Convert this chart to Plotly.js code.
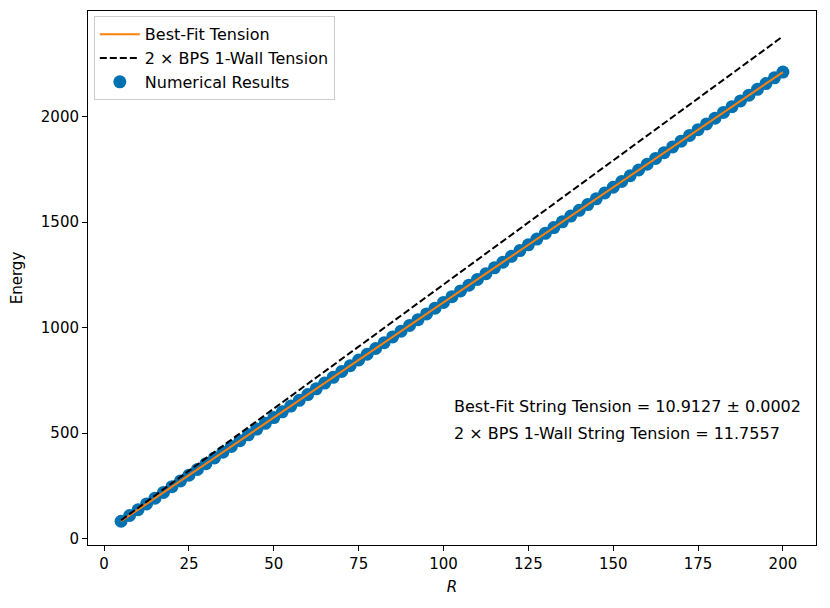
<!DOCTYPE html>
<html>
<head>
<meta charset="utf-8">
<script src="https://cdn.plot.ly/plotly-3.0.1.min.js"></script>
<style>html,body{margin:0;padding:0;background:#fff;}#chart{width:830px;height:608px;}</style>
</head>
<body>
<div id="chart"></div>
<script>
// Numerical results
const R_values = [5,7.5,10,12.5,15,17.5,20,22.5,25,27.5,30,32.5,35,37.5,40,42.5,45,47.5,50,52.5,
  55,57.5,60,62.5,65,67.5,70,72.5,75,77.5,80,82.5,85,87.5,90,92.5,95,97.5,100,102.5,
  105,107.5,110,112.5,115,117.5,120,122.5,125,127.5,130,132.5,135,137.5,140,142.5,145,147.5,150,152.5,
  155,157.5,160,162.5,165,167.5,170,172.5,175,177.5,180,182.5,185,187.5,190,192.5,195,197.5,200];
const energy_values = [82.6,109.8,137.1,164.4,191.7,219.0,246.3,273.5,300.8,328.1,355.4,382.7,409.9,437.2,464.5,491.8,519.1,546.4,573.6,600.9,
  628.2,655.5,682.8,710.0,737.3,764.6,791.9,819.2,846.5,873.7,901.0,928.3,955.6,982.9,1010.1,1037.4,1064.7,1092.0,1119.3,1146.6,
  1173.8,1201.1,1228.4,1255.7,1283.0,1310.2,1337.5,1364.8,1392.1,1419.4,1446.7,1473.9,1501.2,1528.5,1555.8,1583.1,1610.3,1637.6,1664.9,1692.2,
  1719.5,1746.8,1774.0,1801.3,1828.6,1855.9,1883.2,1910.4,1937.7,1965.0,1992.3,2019.6,2046.9,2074.1,2101.4,2128.7,2156.0,2183.3,2210.5];
// Line endpoints
const fit_R = [5, 200];
const fit_E = [82.6, 2210.5];
const bps_R = [5, 200];
const bps_E = [87, 2380];
const xTicks = [0,25,50,75,100,125,150,175,200];
const yTicks = [0,500,1000,1500,2000];
const notes = ["Best-Fit String Tension = 10.9127 ± 0.0002", "2 × BPS 1-Wall String Tension = 11.7557"];

const font = "DejaVu Sans, sans-serif";
const traces = [
  {x: R_values, y: energy_values, mode: 'markers', type: 'scatter', name: 'Numerical Results',
   marker: {color: '#0072b2', size: 13, line: {width: 0}}, legendrank: 3},
  {x: fit_R, y: fit_E, mode: 'lines', type: 'scatter', name: 'Best-Fit Tension',
   line: {color: '#ff7f0e', width: 2}, legendrank: 1},
  {x: bps_R, y: bps_E, mode: 'lines', type: 'scatter', name: '2 × BPS 1-Wall Tension',
   line: {color: '#000000', width: 2, dash: '7px,3px'}, legendrank: 2}
];
const layout = {
  width: 830, height: 608,
  margin: {l: 88, r: 14, t: 11, b: 63},
  paper_bgcolor: '#fff', plot_bgcolor: '#fff',
  font: {family: font, size: 15, color: '#000'},
  showlegend: true,
  legend: {x: 0.008, y: 0.99, xanchor: 'left', yanchor: 'top', bgcolor: 'rgba(255,255,255,0.8)',
    bordercolor: '#cccccc', borderwidth: 1, font: {family: font, size: 16}, tracegroupgap: 0,
    itemwidth: 40},
  xaxis: {range: [-4.75, 209.75], tickvals: xTicks, ticks: 'outside', ticklen: 5, tickcolor: '#000',
    showgrid: false, zeroline: false, showline: true, linecolor: '#000', linewidth: 1, mirror: true,
    tickfont: {size: 15}, title: {text: '<i>R</i>', font: {size: 15}, standoff: 9}},
  yaxis: {range: [-30, 2500], tickvals: yTicks, ticks: 'outside', ticklen: 5, tickcolor: '#000',
    showgrid: false, zeroline: false, showline: true, linecolor: '#000', linewidth: 1, mirror: true,
    tickfont: {size: 15}, title: {text: 'Energy', font: {size: 15}, standoff: 14}},
  annotations: [
    {x: 102.5, y: 625, xref: 'x', yref: 'y', xanchor: 'left', yanchor: 'middle', text: notes[0], showarrow: false, font: {size: 16}},
    {x: 102.5, y: 497, xref: 'x', yref: 'y', xanchor: 'left', yanchor: 'middle', text: notes[1], showarrow: false, font: {size: 16}}
  ]
};
Plotly.newPlot('chart', traces, layout, {displayModeBar: false, staticPlot: true});
</script>
</body>
</html>
